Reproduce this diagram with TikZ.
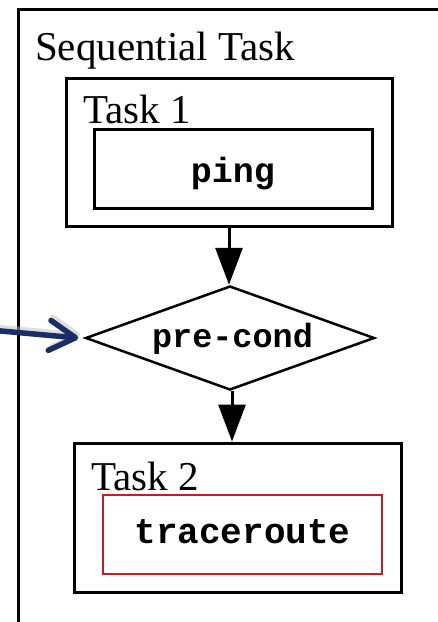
\documentclass[tikz,border=0pt]{standalone}
\usepackage{fontspec}
\setmainfont{Liberation Serif}
\newfontfamily\codefont{Liberation Mono}
\usetikzlibrary{arrows.meta,shapes.geometric}
\definecolor{navyarrow}{RGB}{25,45,105}
\definecolor{redbox}{RGB}{195,30,40}
\tikzset{
  box/.style={draw=black, line width=3pt, rectangle, inner sep=0pt},
  lbl/.style={inner sep=0pt, font=\fontsize{41}{49}\selectfont},
  code/.style={inner sep=0pt, font=\codefont\bfseries\fontsize{35}{42}\selectfont},
  flow/.style={line width=3pt, -{Triangle[length=37pt,width=27pt]}},
  bluearrow/.style={draw=navyarrow, line width=5.5pt, line cap=round,
    -{Straight Barb[length=26pt,width=30pt,round]}}
}
\begin{document}
\begin{tikzpicture}[x=1pt,y=-1pt]
\clip (0,0) rectangle (438,622);
\fill[white] (0,0) rectangle (438,622);
% outer sequential task box (extends beyond picture)
\node[box, anchor=north west, minimum width=520pt, minimum height=720pt] (seq) at (17,8) {};
\node[lbl, anchor=base west] (seqlabel) at (35,60) {Sequential Task};
% Task 1
\node[box, minimum width=326pt, minimum height=148pt] (task1) at (229,152) {};
\node[lbl, anchor=base west] (task1label) at (83,123) {Task 1};
\node[box, minimum width=278pt, minimum height=79pt] (pingbox) at (233,168.5) {};
\node[code, anchor=base] (pingtext) at (233,182) {ping};
% pre-condition diamond
\node[diamond, draw=black, line width=2.5pt, inner sep=0pt, minimum width=289pt, minimum height=104pt] (pc) at (230,338) {};
\node[code, anchor=base, font=\codefont\bfseries\fontsize{33.5}{40}\selectfont] (pctext) at (232.5,347) {pre-cond};
% Task 2
\node[box, minimum width=327pt, minimum height=149pt] (task2) at (237.5,517.5) {};
\node[lbl, anchor=base west] (task2label) at (91,490) {Task 2};
\node[draw=redbox, line width=2.5pt, rectangle, inner sep=0pt, minimum width=279pt, minimum height=79pt] (tracebox) at (242.5,534.5) {};
\node[code, anchor=base, font=\codefont\bfseries\fontsize{36}{43}\selectfont] (tracetext) at (242.5,543) {traceroute};
% connectors
\draw[flow] (task1.south) -- (task1.south |- pc.north);
\draw[flow] ([xshift=2pt]pc.south) -- ([xshift=2pt]pc.south |- task2.north);
% blue incoming arrow
\coordinate (bstart) at (-10,330);
\draw[bluearrow, draw=black!25, opacity=0.5] ([shift={(2pt,3pt)}]bstart) -- ([shift={(-4pt,3pt)}]pc.west);
\draw[bluearrow] (bstart) -- ([xshift=-6pt]pc.west);
\end{tikzpicture}
\end{document}
